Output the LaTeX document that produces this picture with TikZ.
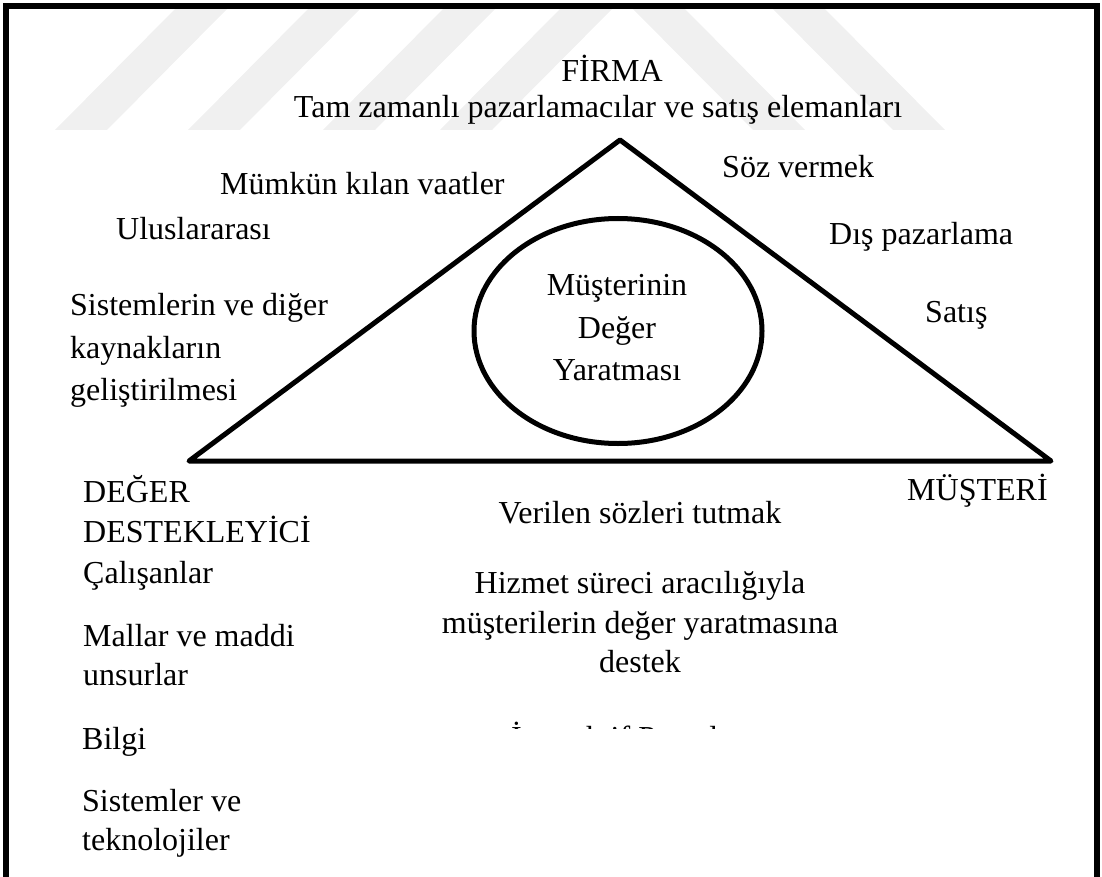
\documentclass[tikz,border=0pt]{standalone}
\usepackage{fontspec}
\setmainfont{Liberation Serif}
\usetikzlibrary{shapes.geometric}
\begin{document}
\begin{tikzpicture}[x=1pt,y=-1pt,
  lbl/.style={font=\fontsize{32}{38}\selectfont, inner sep=0pt, anchor=base west},
  cbl/.style={lbl, anchor=base},
  heavy/.style={line width=5pt},
  band/.style={fill=black!6, draw=none}]
\useasboundingbox (0,0) rectangle (1102,877);

% faint striped emblem behind the heading
\foreach \b in {55,188,323,440}
  \fill[band] (\b,130) -- (\b+52,130) -- (\b+175,6) -- (\b+123,6) -- cycle;
\foreach \b in {630,770}
  \fill[band] (\b,6) -- (\b+52,6) -- (\b+175,130) -- (\b+123,130) -- cycle;

% open frame
\draw[line width=6pt] (6,877) -- (6,6) -- (1097,6) -- (1097,877);

% the triangle and the inner ellipse
\coordinate (apex) at (620,140);
\coordinate (left) at (189,461);
\coordinate (right) at (1051,461);
\draw[heavy, line join=round] (apex) -- (right) -- (left) -- cycle;
\node[ellipse, draw, heavy, minimum width=288pt, minimum height=225pt, inner sep=0pt] (core) at (618,331) {};

% corner labels
\node[cbl] (firm) at (612,82) {FİRMA};
\node[cbl] (staff) at (598,118) {Tam zamanlı pazarlamacılar ve satış elemanları};
\node[lbl] (val1) at (83,502) {DEĞER};
\node[lbl] (val2) at (83,542) {DESTEKLEYİCİ};
\node[lbl] (cust) at (907,500) {MÜŞTERİ};

% left side
\node[lbl] (enable) at (220,195) {Mümkün kılan vaatler};
\node[lbl] (intl) at (116,240) {Uluslararası};
\node[lbl] (dev1) at (70,315) {Sistemlerin ve diğer};
\node[lbl] (dev2) at (70,358) {kaynakların};
\node[lbl] (dev3) at (70,400) {geliştirilmesi};

% right side
\node[lbl] (promise) at (722,178) {Söz vermek};
\node[lbl] (ext) at (829,245) {Dış pazarlama};
\node[lbl] (sales) at (925,322) {Satış};

% centre
\node[cbl] (cv1) at (617,295) {Müşterinin};
\node[cbl] (cv2) at (617,338) {Değer};
\node[cbl] (cv3) at (617,380) {Yaratması};

% base side
\node[cbl] (keep) at (640,523) {Verilen sözleri tutmak};
\node[cbl] (svc1) at (640,593) {Hizmet süreci aracılığıyla};
\node[cbl] (svc2) at (640,633) {müşterilerin değer yaratmasına};
\node[cbl] (svc3) at (640,672) {destek};
\begin{scope}
  \clip (440,700) rectangle (800,728);
  \node[lbl] (inter) at (511,748) {İnteraktif Pazarlama};
\end{scope}

% resources list
\node[lbl] (emp) at (83,583) {Çalışanlar};
\node[lbl] (goods1) at (83,646) {Mallar ve maddi};
\node[lbl] (goods2) at (83,685) {unsurlar};
\node[lbl] (info) at (82,749) {Bilgi};
\node[lbl] (sys1) at (82,811) {Sistemler ve};
\node[lbl] (sys2) at (82,850) {teknolojiler};
\end{tikzpicture}
\end{document}
